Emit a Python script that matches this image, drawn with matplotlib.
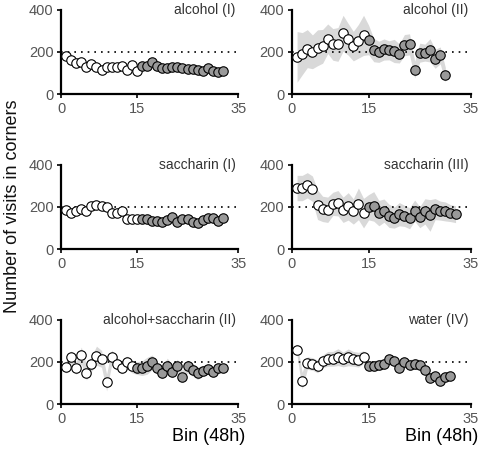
import numpy as np
import matplotlib.pyplot as plt

plt.rcParams['font.family'] = ['Liberation Sans', 'DejaVu Sans']

# mean visits per 48h bin, and half-width of the grey band
ALC1 = [180, 159, 145, 153, 129, 143, 127, 116, 126, 126, 127, 132, 116, 137, 111,
        135, 135, 153, 135, 121, 121, 127, 127, 121, 119, 119, 114, 111, 122, 108, 105, 108]
ALC1_SEM = [18, 15, 8, 6, 5, 5, 5, 5, 5, 5, 5, 5, 5, 5, 5,
            6, 6, 6, 6, 5, 5, 5, 5, 5, 5, 5, 5, 5, 5, 5, 5, 5]

ALC2 = [176, 191, 215, 200, 219, 226, 262, 235, 235, 288, 259, 227, 250, 278,
        256, 208, 200, 211, 207, 204, 192, 232, 235, 116, 196, 196, 207, 167, 183, 91]
ALC2_SEM = [120, 100, 90, 80, 85, 80, 70, 75, 80, 85, 75, 70, 80, 95,
            70, 55, 50, 50, 45, 55, 45, 50, 50, 40, 45, 40, 55, 45, 40, 35]

SAC1 = [186, 170, 178, 190, 178, 202, 210, 206, 198, 170, 170, 181, 143, 143, 141,
        141, 141, 133, 133, 127, 138, 154, 127, 143, 143, 127, 122, 138, 146, 146, 133, 146]
SAC1_SEM = [15, 12, 12, 12, 12, 14, 14, 14, 12, 12, 12, 12, 10, 10, 10,
            10, 10, 10, 10, 10, 10, 10, 10, 10, 10, 10, 10, 10, 10, 10, 10, 10]

SAC3 = [289, 289, 302, 286, 210, 190, 186, 214, 217, 186, 202, 178, 214, 170,
        198, 202, 170, 182, 157, 149, 165, 157, 146, 182, 151, 178, 159, 189, 182, 178, 170, 165]
SAC3_SEM = [60, 60, 60, 60, 70, 60, 60, 55, 60, 60, 65, 60, 75, 70,
            60, 70, 60, 55, 55, 50, 55, 50, 50, 50, 50, 60, 75, 50, 45, 45, 40, 40]

ALCSAC2 = [175, 222, 170, 230, 149, 190, 229, 214, 102, 221, 190, 173, 197, 178,
           170, 170, 181, 197, 170, 149, 182, 154, 182, 130, 178, 162, 146, 157, 165, 154, 173, 170]
ALCSAC2_SEM = [30, 30, 30, 40, 35, 35, 45, 40, 40, 35, 30, 30, 30, 30,
               30, 35, 40, 35, 30, 30, 35, 30, 30, 30, 30, 30, 30, 25, 25, 25, 25, 20]

WATER4 = [257, 110, 194, 190, 178, 202, 214, 214, 222, 211, 221, 214, 210, 222,
          181, 181, 186, 189, 211, 205, 170, 197, 186, 189, 186, 162, 122, 133, 110, 130, 135]
WATER4_SEM = [30, 40, 30, 30, 30, 30, 35, 35, 40, 35, 40, 35, 35, 30,
              25, 25, 25, 25, 25, 25, 25, 25, 25, 25, 25, 25, 20, 20, 20, 20, 20]

TITRES = ["alcohol (I)", "alcohol (II)", "saccharin (I)", "saccharin (III)",
          "alcohol+saccharin (II)", "water (IV)"]
SERIES = [ALC1, ALC2, SAC1, SAC3, ALCSAC2, WATER4]
SEMS = [ALC1_SEM, ALC2_SEM, SAC1_SEM, SAC3_SEM, ALCSAC2_SEM, WATER4_SEM]
NB_BLANCS = [15, 14, 15, 14, 14, 14]   # bins drawn as open circles

fig = plt.figure(figsize=(4.81, 4.49), dpi=100)

GAUCHE = [0.127, 0.607]
LARGEUR = [0.368, 0.372]
BAS = [0.7906, 0.4454, 0.1002]
HAUTEUR = 0.188

for k in range(6):
    ligne, col = divmod(k, 2)
    ax = fig.add_axes([GAUCHE[col], BAS[ligne], LARGEUR[col], HAUTEUR])
    y = np.array(SERIES[k], dtype=float)
    s = np.array(SEMS[k], dtype=float)
    x = np.arange(1, len(y) + 1)
    ax.fill_between(x, y - s, y + s, color='#d9d9d9', linewidth=0, zorder=1)
    ax.plot([0, 35], [200, 200], color='black', linestyle=(0, (1, 3)), linewidth=1.2, zorder=2)
    n = NB_BLANCS[k]
    ax.plot(x[:n], y[:n], 'o', markerfacecolor='white', markeredgecolor='black',
            markersize=6.8, markeredgewidth=0.8, zorder=3)
    ax.plot(x[n:], y[n:], 'o', markerfacecolor='#999999', markeredgecolor='black',
            markersize=6.8, markeredgewidth=0.8, zorder=3)
    ax.set_xlim(0, 35)
    ax.set_ylim(0, 400)
    ax.set_xticks([0, 15, 35])
    ax.set_yticks([0, 200, 400])
    for side in ['top', 'right']:
        ax.spines[side].set_visible(False)
    for side in ['left', 'bottom']:
        ax.spines[side].set_linewidth(1.6)
    ax.tick_params(direction='out', length=3, width=1.2, labelsize=10.5,
                   labelcolor='#555555', pad=2.5)
    ax.text(34.5, 400, TITRES[k], ha='right', va='center', fontsize=10, color='#333333')
    if ligne == 2:
        ax.text(36.4, -152, "Bin (48h)", ha='right', va='center', fontsize=13,
                color='black', clip_on=False)

fig.text(0.025, 0.541, "Number of visits in corners", rotation=90, ha='center',
         va='center', fontsize=13, color='#111111')

plt.savefig("out.png", dpi=100)
